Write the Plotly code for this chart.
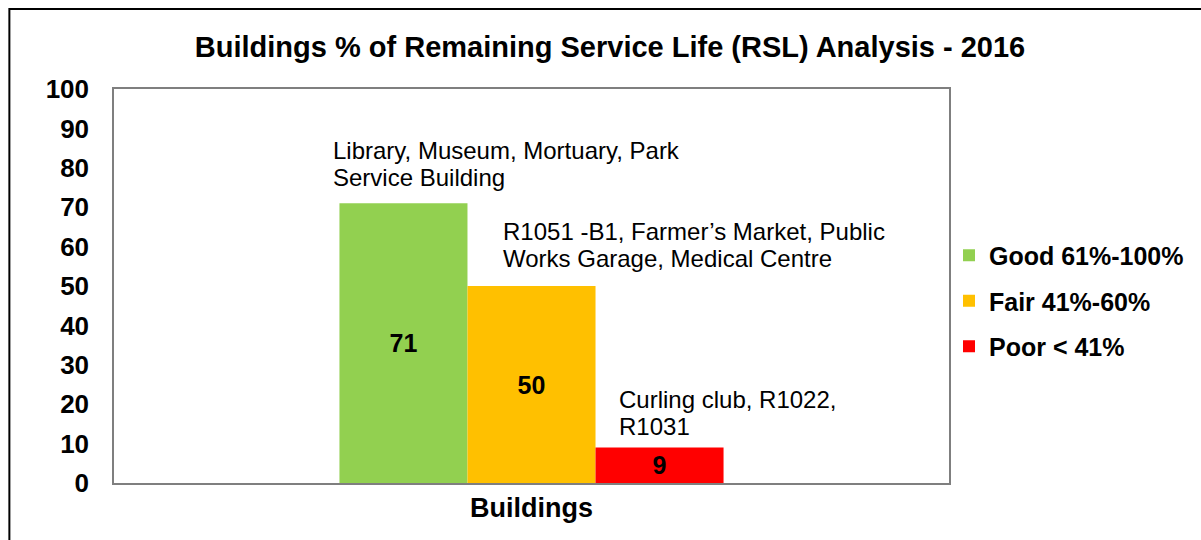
import plotly.graph_objects as go

category = ["Buildings"]
series_names = ["Good 61%-100%", "Fair 41%-60%", "Poor < 41%"]
series_values = [71, 50, 9]
series_colors = ["#92D050", "#FFC000", "#FF0000"]
bar_notes = [
    ["Library, Museum, Mortuary, Park", "Service Building"],
    ["R1051 -B1, Farmer\u2019s Market, Public", "Works Garage, Medical Centre"],
    ["Curling club, R1022,", "R1031"],
]
note_x = [-0.2396, -0.0366, 0.1024]
note_gap = [26, 28, 21]
y_ticks = list(range(0, 101, 10))

FONT = "Arial, 'Liberation Sans', sans-serif"
LINE_H = 27

fig = go.Figure()
for name, val, col in zip(series_names, series_values, series_colors):
    fig.add_trace(go.Bar(
        x=category, y=[val], name=name, legendgroup=name,
        marker=dict(color=col, line=dict(width=0)),
        text=[str(val)], textposition="inside", insidetextanchor="middle",
        textangle=0,
        textfont=dict(family=FONT, size=25, color="black", weight="bold"),
    ))

for lines, xv, val, gap in zip(bar_notes, note_x, series_values, note_gap):
    n = len(lines)
    for i, line in enumerate(lines):
        fig.add_annotation(
            x=xv, y=val, xref="x", yref="y", text=line, showarrow=False,
            xanchor="left", yanchor="middle", align="left",
            yshift=gap + LINE_H * (n - 1 - i),
            font=dict(family=FONT, size=24, color="black"),
        )

L, R, T, B = 114, 952, 89, 483
W, H = 1201, 540
pw, ph = R - L, B - T
fig.add_shape(
    type="rect", xref="paper", yref="paper",
    x0=(9 - L) / pw, x1=(W + 10 - L) / pw,
    y0=(B - (H + 10)) / ph, y1=(B - 9) / ph,
    line=dict(color="black", width=2), fillcolor="rgba(0,0,0,0)", layer="below",
)

fig.update_layout(
    width=W, height=H,
    margin=dict(l=L, r=W - R, t=T, b=H - B),
    paper_bgcolor="white", plot_bgcolor="white",
    barmode="group", bargap=0.54, bargroupgap=0,
    title=dict(text="<b>Buildings % of Remaining Service Life (RSL) Analysis - 2016</b>",
               x=(610) / W, xanchor="center", y=1 - 47 / H, yanchor="middle",
               font=dict(family=FONT, size=29, color="black")),
    showlegend=True,
    legend=dict(x=1.0, xanchor="left", y=(B - 301) / ph, yanchor="middle",
                traceorder="grouped", tracegroupgap=10,
                font=dict(family=FONT, size=25, color="black", weight="bold"),
                bgcolor="rgba(0,0,0,0)"),
    xaxis=dict(showline=True, linecolor="#7f7f7f", linewidth=1.5, mirror=True,
               showgrid=False, ticks="", range=[-0.5, 0.5],
               tickfont=dict(family=FONT, size=27, color="black", weight="bold"),
               ticklabelstandoff=0),
    yaxis=dict(showline=True, linecolor="#7f7f7f", linewidth=1.5, mirror=True,
               showgrid=False, ticks="", range=[0, 100], tickvals=y_ticks,
               tickfont=dict(family=FONT, size=26, color="black", weight="bold"),
               ticklabelstandoff=18, zeroline=False),
)

fig.write_html("out.html", config={"displayModeBar": False},
               post_script="document.body.style.margin='0';document.body.style.padding='0';")
